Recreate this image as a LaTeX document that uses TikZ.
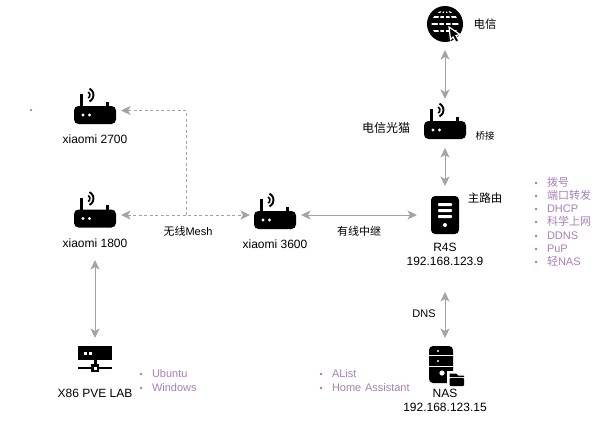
\documentclass[tikz,border=0pt]{standalone}
\usepackage{fontspec}
\setmainfont{Liberation Sans}
\newfontfamily\cjk{Noto Sans CJK SC}
\usetikzlibrary{arrows.meta}
\definecolor{arrowgray}{HTML}{A3A3A3}
\definecolor{listpurple}{HTML}{A680B8}
\newcommand{\fs}[1]{\fontsize{#1}{#1}\selectfont}
\newcommand{\li}[1]{\makebox[12.5pt][l]{\fontsize{9}{9}\selectfont •}#1\\}
\newcommand{\zh}[1]{{\cjk #1}}
\tikzset{
  x=1pt,y=-1pt,
  anchorbox/.style={inner sep=0pt,outer sep=0pt},
  lab/.style={inner sep=0pt,outer sep=0pt,font=\fs{12},align=center,text=black},
  cjklab/.style={inner sep=0pt,outer sep=0pt,font=\fs{11},text=black},
  listnode/.style={inner sep=0pt,outer sep=0pt,anchor=north west,align=left,text=listpurple,font=\fs{11},text height=8pt},
  link/.style={draw=arrowgray,line width=0.9pt,{Stealth[length=9.5pt,width=9pt,inset=2.5pt]}-{Stealth[length=9.5pt,width=9pt,inset=2.5pt]}},
  meshlink/.style={draw=arrowgray,line width=0.7pt,dash pattern=on 3pt off 2.5pt,-{Stealth[length=9.5pt,width=9pt,inset=2.5pt]}},
  meshstem/.style={draw=arrowgray,line width=0.7pt,dash pattern=on 3pt off 2.5pt},
  router/.pic={
    \fill[black,rounded corners=4.5pt] (-21,0) rectangle (21,18);
    \fill[black] (-14.8,-12) rectangle (-12,2);
    \fill[black] (11,-4.5) rectangle (13.8,2);
    \fill[white] (-12,9) circle (1.6);
    \fill[white] (-5.5,9) circle (1.6);
    \draw[black,line width=1.6pt] (-8.5,-11)+(-60:3.5) arc[start angle=-60,end angle=60,radius=3.5];
    \draw[black,line width=1.9pt] (-8.5,-11)+(-65:7) arc[start angle=-65,end angle=65,radius=7];
  },
}
\begin{document}
\begin{tikzpicture}
\useasboundingbox (0,0) rectangle (615,420);
% anchor nodes for the icons
\node[anchorbox,minimum width=40pt,minimum height=52pt] (globe) at (445,24) {};
\node[anchorbox,minimum width=42pt,minimum height=49pt] (modem) at (445,123.5) {};
\node[anchorbox,minimum width=56pt,minimum height=58pt] (r4s) at (445,215) {};
\node[anchorbox,minimum width=51pt,minimum height=30pt] (r3600) at (275.5,215) {};
\node[anchorbox,minimum width=52pt,minimum height=30pt] (r1800) at (95,215) {};
\node[anchorbox,minimum width=52pt,minimum height=30pt] (r2700) at (95,110.5) {};
\node[anchorbox,minimum width=40pt,minimum height=54pt] (nas) at (445,365) {};
\node[anchorbox,minimum width=40pt,minimum height=38pt] (pve) at (95,357) {};
\coordinate (meshjoin) at (186,215);
\coordinate (meshtop) at (186,110.5);
% labels
\node[lab,minimum height=34pt] (l1800) at (95,243) {xiaomi 1800};
\node[lab] (l2700) at (95,139) {xiaomi 2700};
\node[lab] (l3600) at (275,244) {xiaomi 3600};
\node[lab,minimum height=75pt] (lr4s) at (445,254.5) {R4S\\[2pt]192.168.123.9};
\node[lab] (lnas) at (445,400) {NAS\\[2pt]192.168.123.15};
\node[lab] (lpve) at (95,393) {X86 PVE LAB};
\node[cjklab,font=\cjk\fs{11.5}] (ltel) at (485,24) {电信};
\node[cjklab,font=\cjk\fs{12}] (lmodem) at (386,128) {电信光猫};
\node[cjklab,font=\cjk\fs{9.5}] (lbridge) at (485,136) {桥接};
\node[cjklab,font=\cjk\fs{11.5}] (lmain) at (485,198) {主路由};
\node[cjklab] (lmesh) at (188,231) {\zh{无线}Mesh};
\node[cjklab,font=\cjk\fs{11}] (lwired) at (359,231) {有线中继};
\node[lab,font=\fs{11}] (ldns) at (424,314) {DNS};
% lists
\node[listnode,text width=70pt] (list1) at (534.5,178) {\setlength{\baselineskip}{13.3pt}\li{\zh{拨号}}\li{\zh{端口转发}}\li{DHCP}\li{\zh{科学上网}}\li{DDNS}\li{PuP}\li{\zh{轻}NAS}};
\node[listnode,text width=70pt] (list2) at (139.5,369) {\setlength{\baselineskip}{14pt}\li{Ubuntu}\li{Windows}};
\node[listnode,text width=100pt] (list3) at (319.5,369) {\setlength{\baselineskip}{14pt}\li{AList}\li{Home Assistant}};
\node[circle,fill=listpurple!80!gray,inner sep=0pt,minimum size=2.5pt] (stray) at (31,110) {};
% connectors
\draw[link] (globe) -- (modem);
\draw[link] (modem) -- (r4s);
\draw[link] (r3600) -- (r4s);
\draw[link] (lr4s) -- (nas);
\draw[link] (l1800) -- (pve);
\draw[meshlink,{Stealth[length=9.5pt,width=9pt,inset=2.5pt]}-{Stealth[length=9.5pt,width=9pt,inset=2.5pt]}] (r1800) -- (r3600);
\draw[meshstem] (meshjoin) -- (meshtop);
\draw[meshlink] (meshtop) -- (r2700);
% routers
\pic at (95,106) {router};
\pic at (95,209.5) {router};
\pic at (275,211) {router};
\pic at (445,121) {router};
% globe
\fill[black] (445,24) circle (18);
\begin{scope}
\clip (445,24) circle (13.5);
\fill[white] (430,16) rectangle (460,18.4);
\fill[white] (430,23) rectangle (460,25.4);
\fill[white] (430,30) rectangle (460,32.4);
\fill[white] (430,11) rectangle (460,13);
\draw[black,line width=1.5pt] (445,24) ellipse (6.5 and 14);
\draw[black,line width=1.5pt] (445,9) -- (445,39);
\end{scope}
\fill[black,draw=white,line width=1.2pt] (449,27) -- (460,34.5) -- (456,35.5) -- (459,41) -- (456,42.5) -- (453,37) -- (450.5,39.5) -- cycle;
% R4S
\fill[black,rounded corners=4pt] (431,196) rectangle (459,234);
\fill[white,rounded corners=0.8pt] (438,203) rectangle (452,206);
\fill[white,rounded corners=0.8pt] (438,209) rectangle (452,212);
\fill[white,rounded corners=0.8pt] (438,215) rectangle (452,218);
\fill[white] (445,225) circle (2);
% NAS
\fill[black,rounded corners=4pt] (429,346) rectangle (453,383);
\fill[white] (429,355) rectangle (453,356.2);
\fill[white] (429,365.6) rectangle (453,366.8);
\fill[white] (438,351) circle (1.2);
\fill[white] (438,361) circle (1.2);
\fill[white] (442,373) circle (2.6);
\fill[white] (447,371) rectangle (466,388);
\fill[black] (449.5,373.5) -- (456,373.5) -- (458,375.5) -- (464,375.5) -- (464,377) -- (449.5,377) -- cycle;
\fill[black,rounded corners=1pt] (449.5,378) rectangle (464,386);
% PVE
\fill[black] (78,346) rectangle (112,360);
\fill[white] (83.5,351.5) rectangle (86.5,354.5);
\fill[white] (88.5,351.5) rectangle (91.5,354.5);
\fill[black] (93.5,360) rectangle (96.5,365);
\fill[black] (78,366.8) rectangle (112,369.2);
\fill[black] (91,364) rectangle (99,372);
\fill[white] (93.5,366.5) rectangle (96.5,369.5);
\end{tikzpicture}
\end{document}
